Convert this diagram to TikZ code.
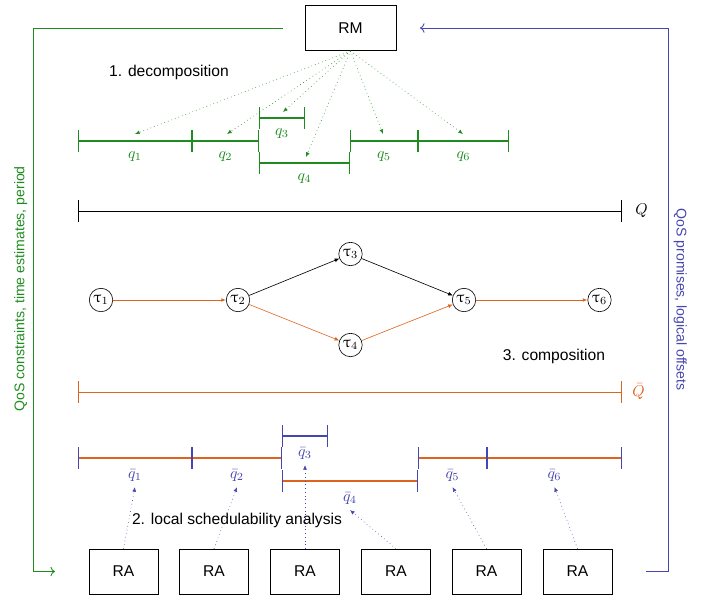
\documentclass[tikz,border=0pt]{standalone}
\usepackage{fontspec}
\setsansfont{Liberation Sans}
\usepackage{upgreek}
\usetikzlibrary{arrows.meta}
\definecolor{verde}{RGB}{30,140,30}
\definecolor{azul}{RGB}{70,70,175}
\definecolor{naranja}{RGB}{222,100,30}
\begin{document}
\begin{tikzpicture}[x=0.64pt,y=-0.64pt,
every node/.style={font=\sffamily},
caja/.style={draw, minimum width=58pt, minimum height=29pt},
ra/.style={caja, minimum width=44pt, minimum height=28.8pt},
tarea/.style={draw, circle, inner sep=0pt, minimum size=15pt}]%escala en pixeles de la figura
\tikzstyle{intervalo}=[thick, {Bar[width=14pt]}-{Bar[width=14pt]}]% intervalo con marcas
\tikzstyle{verdeint}=[intervalo, verde]
\tikzstyle{azulint}=[intervalo, azul]
\tikzstyle{naranjaint}=[thick, naranja, {Bar[width=14pt,color=azul]}-{Bar[width=14pt,color=azul]}]
\tikzstyle{punteado}=[dotted, -{Latex[length=3pt,width=2.5pt]}]% flechas punteadas
\tikzstyle{arista}=[-{Latex[length=3pt,width=2.5pt]}]
\tikzstyle{etq}=[below=3pt]
\tikzstyle{etqb}=[below=3.5pt, azul]
\useasboundingbox (0,0) rectangle (706,597);
\node[caja] (rm) at (350.5,28) {RM};%cabeza
\foreach \x [count=\i] in {123.5,214,305,396,486.5,577.5}
  \node[ra] (ra\i) at (\x,571.5) {RA};
\node (dec) at (169,72) {1. decomposition};
\node (comp) at (554,356) {3. composition};
\node (loc) at (237,520) {2. local schedulability analysis};
% descomposicion
\draw[verdeint] (78,141) -- node[etq] (q1) {$q_1$} (192,141);
\draw[verdeint] (192,141) -- node[etq] (q2) {$q_2$} (259,141);
\draw[verdeint] (259,118) -- node[etq] (q3) {$q_3$} (305,118);
\draw[verdeint] (259,163) -- node[etq] (q4) {$q_4$} (350,163);
\draw[verdeint] (350,141) -- node[etq] (q5) {$q_5$} (418,141);
\draw[verdeint] (418,141) -- node[etq] (q6) {$q_6$} (509,141);
\foreach \x/\y [count=\i] in {135/134,227/134,283/112,306/157,383/134,463/134}
  \coordinate (d\i) at (\x,\y);
\foreach \i in {1,...,6}
  \draw[punteado, verde] (rm.south) -- (d\i);
\draw[intervalo, semithick] (78,211) -- (622,211) node[right=5pt] (Q) {$Q$};
% grafo de tareas
\node[tarea] (t1) at (101,300) {$\uptau_1$};
\node[tarea] (t2) at (238,300) {$\uptau_2$};
\node[tarea] (t3) at (350.5,254) {$\uptau_3$};
\node[tarea] (t4) at (350.5,345) {$\uptau_4$};
\node[tarea] (t5) at (464,300) {$\uptau_5$};
\node[tarea] (t6) at (599.5,300) {$\uptau_6$};
\draw[arista, naranja, semithick] (t1) -- (t2);
\draw[arista] (t2) -- (t3);
\draw[arista, naranja] (t2) -- (t4);
\draw[arista] (t3) -- (t5);
\draw[arista, naranja] (t4) -- (t5);
\draw[arista, naranja, semithick] (t5) -- (t6);
\draw[semithick, naranja, {Bar[width=14pt]}-{Bar[width=14pt]}] (78,392) -- (622,392) node[right=3pt] (Qb) {$\bar{Q}$};
% composicion
\draw[naranjaint] (78,458) -- node[etqb] (qb1) {$\bar{q}_1$} (192,458);
\draw[naranjaint] (192,458) -- node[etqb] (qb2) {$\bar{q}_2$} (282,458);
\draw[azulint] (282,436) -- node[etqb] (qb3) {$\bar{q}_3$} (328,436);
\draw[naranjaint] (282,481) -- node[etqb] (qb4) {$\bar{q}_4$} (418,481);
\draw[naranjaint] (418,458) -- node[etqb] (qb5) {$\bar{q}_5$} (487,458);
\draw[naranjaint] (487,458) -- node[etqb] (qb6) {$\bar{q}_6$} (622,458);
\foreach \i in {1,...,6}
  \draw[punteado, azul] (ra\i.north) -- (qb\i.south);
% realimentacion
\coordinate (gi) at (283,28);
\coordinate (gc) at (33,571.5);
\coordinate (gf) at (55,571.5);
\draw[semithick, verde, ->] (gi) -| node[pos=0.74, rotate=90, anchor=south, font=\sffamily\small] {QoS constraints, time estimates, period} (gc) -- (gf);
\coordinate (ai) at (646,571.5);
\coordinate (ac) at (668,571.5);
\coordinate (af) at (420,28);
\draw[semithick, azul, ->] (ai) -- (ac) |- node[pos=0.25, rotate=-90, anchor=south, font=\sffamily\small] {QoS promises, logical offsets} (af);
\end{tikzpicture}
\end{document}
